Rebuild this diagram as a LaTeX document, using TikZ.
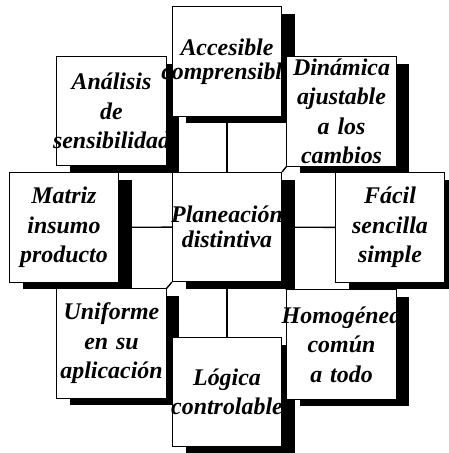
\documentclass[tikz,border=0pt]{standalone}
\usepackage{fontspec}
\setmainfont{Liberation Serif}
\usetikzlibrary{shadows, backgrounds}

\begin{document}
\begin{tikzpicture}[x=0.025cm, y=-0.025cm,
    caja/.style={draw, line width=0.7pt, fill=white, inner sep=0pt,
        minimum height=\boxSize, text width=\boxSize, align=center,
        font=\bfseries\itshape\fontsize{17}{21}\selectfont,
        drop shadow={shadow xshift=0.33cm, shadow yshift=-0.18cm, fill=black, opacity=1}},
    enlace/.style={line width=1pt}]

% --- DEFINITIONS ---
\def\boxSize{2.73cm}   % side of every box (about 109 px)

% page frame (pixel units of the original)
\useasboundingbox (0,0) rectangle (448,453);

% --- 1. TOP ROW ---
\node[caja] (analisis) at (111.5,111) {Análisis\\de\\\makebox[0pt]{sensibilidad}};
\node[caja] (accesible) at (227,61.5) {Accesible\\[-4pt]\makebox[0pt]{comprensible}};
\node[caja] (dinamica) at (341.5,111.5) {Dinámica\\ajustable\\a los\\cambios};

% --- 2. MIDDLE ROW ---
\node[caja] (matriz) at (64,227.5) {Matriz\\insumo\\producto};
\node[caja] (planeacion) at (227,227) {\makebox[0pt]{Planeación}\\[-3pt]distintiva};
\node[caja] (facil) at (390,227.5) {Fácil\\sencilla\\simple};

% --- 3. BOTTOM ROW ---
\node[caja] (uniforme) at (111.5,343.5) {Uniforme\\en su\\\makebox[0pt]{aplicación}};
\node[caja] (logica) at (227,392) {Lógica\\\makebox[0pt]{controlable}};
\node[caja] (homogenea) at (341.5,344.5) {\makebox[0pt]{Homogénea}\\común\\a todo};

% --- 4. LINKS (behind the boxes) ---
\begin{scope}[on background layer]
    \draw[enlace] (matriz) -- (planeacion) -- (facil);
    \draw[enlace] (accesible) -- (planeacion) -- (logica);
    % small corner joints
    \draw[enlace] (analisis.south east) -- (planeacion.north west);
    \draw[enlace] (dinamica.south west) -- (planeacion.north east);
    \draw[enlace] (uniforme.north east) -- (planeacion.south west);
    \draw[enlace] (homogenea.north west) -- (planeacion.south east);
\end{scope}

\end{tikzpicture}
\end{document}
